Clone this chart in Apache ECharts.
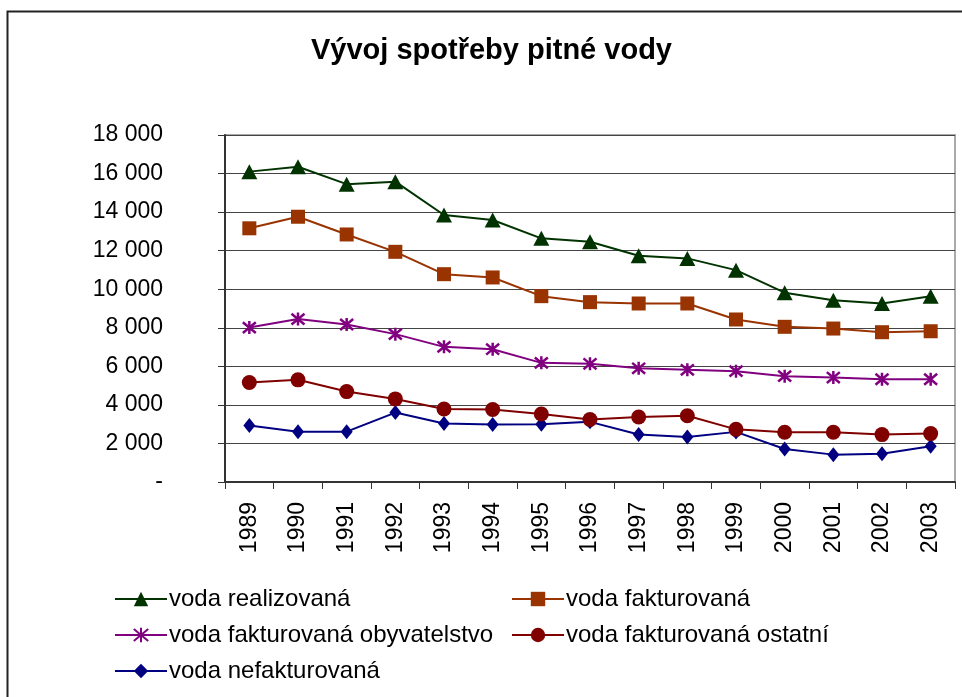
<!DOCTYPE html>
<html>
<head>
<meta charset="utf-8">
<script src="https://cdn.jsdelivr.net/npm/echarts@6/dist/echarts.min.js"></script>
<style>
html,body{margin:0;padding:0;background:#fff;}
#c{width:962px;height:697px;}
</style>
</head>
<body>
<div id="c"></div>
<script>
const title = 'Vývoj spotřeby pitné vody';
const years = ['1989','1990','1991','1992','1993','1994','1995','1996','1997','1998','1999','2000','2001','2002','2003'];
const seriesNames = ['voda realizovaná','voda fakturovaná','voda fakturovaná obyvatelstvo','voda fakturovaná ostatní','voda nefakturovaná'];
const realizovana = [16100,16350,15450,15580,13850,13590,12640,12460,11740,11600,10990,9820,9430,9260,9640];
const fakturovana = [13160,13760,12840,11940,10780,10610,9640,9330,9260,9260,8430,8050,7960,7770,7820];
const obyvatelstvo = [8010,8450,8170,7670,7010,6890,6180,6130,5900,5820,5750,5490,5420,5330,5330];
const ostatni = [5160,5300,4690,4310,3790,3760,3530,3240,3370,3440,2730,2580,2580,2460,2510];
const nefakturovana = [2930,2610,2610,3600,3030,2980,3000,3120,2460,2340,2600,1710,1420,1470,1850];
const yTicks = {min: 0, max: 18000, interval: 2000};

const FONT = '"Liberation Sans", Arial, sans-serif';
const colors = ['#003300','#993300','#800080','#800000','#000080'];
const dataSets = [realizovana, fakturovana, obyvatelstvo, ostatni, nefakturovana];
const asterisk = 'path://M0,0L10,10M10,0L0,10M5,-1L5,11';
const symbols = ['triangle','rect', asterisk,'circle','diamond'];
const sizes = [[16,15],[14,14],[13,13],[15,15],[12,15]];

function fmt(v){
  if (v === 0) return '-';
  return String(v).replace(/\B(?=(\d{3})+(?!\d))/g, ' ');
}

const series = seriesNames.map((n,i)=>({
  name: n,
  type: 'line',
  data: dataSets[i],
  symbol: symbols[i],
  symbolSize: sizes[i],
  showAllSymbol: true,
  lineStyle: {color: colors[i], width: 2},
  itemStyle: i === 2 ? {color: colors[i], borderColor: colors[i], borderWidth: 2.5} : {color: colors[i], borderWidth: 0},
  emphasis: {disabled: true},
  animation: false,
  z: 10 - i
}));

const legendPos = [[109,582],[506,582],[109,618],[506,618],[109,654]];
const legends = seriesNames.map((n,i)=>({
  data: [n],
  left: legendPos[i][0],
  top: legendPos[i][1],
  itemWidth: 52,
  itemHeight: 18,
  itemGap: 3,
  textStyle: {fontFamily: FONT, fontSize: 24, color: '#000', padding: [0,0,0,-3]},
  selectedMode: false
}));

const chart = echarts.init(document.getElementById('c'), null, {renderer: 'canvas'});
chart.setOption({
  animation: false,
  backgroundColor: '#fff',
  title: {
    text: title,
    left: 306,
    top: 31,
    textStyle: {fontFamily: FONT, fontSize: 29, fontWeight: 'bold', color: '#000'}
  },
  legend: legends,
  grid: {
    left: 225, right: 7, top: 135, bottom: 215,
    show: true, borderColor: '#aaa', borderWidth: 2, backgroundColor: 'transparent'
  },
  xAxis: {
    type: 'category',
    data: years,
    boundaryGap: true,
    axisLine: {lineStyle: {color: '#333', width: 2}},
    axisTick: {show: true, length: 7, inside: false, lineStyle: {color: '#333', width: 1}},
    axisLabel: {rotate: 90, margin: 20, fontFamily: FONT, fontSize: 23, color: '#000', interval: 0}
  },
  yAxis: {
    type: 'value',
    min: yTicks.min, max: yTicks.max, interval: yTicks.interval,
    axisLine: {show: true, lineStyle: {color: '#333', width: 2}},
    axisTick: {show: true, length: 7, inside: false, lineStyle: {color: '#333', width: 1}},
    axisLabel: {margin: 62, fontFamily: FONT, fontSize: 23, color: '#000', formatter: fmt},
    splitLine: {show: true, lineStyle: {color: '#444', width: 1}}
  },
  graphic: [{
    type: 'rect',
    shape: {x: 7.5, y: 11.5, width: 1000, height: 1000},
    style: {fill: null, stroke: '#222', lineWidth: 2},
    silent: true, z: -1
  }],
  series: series
});
</script>
</body>
</html>
